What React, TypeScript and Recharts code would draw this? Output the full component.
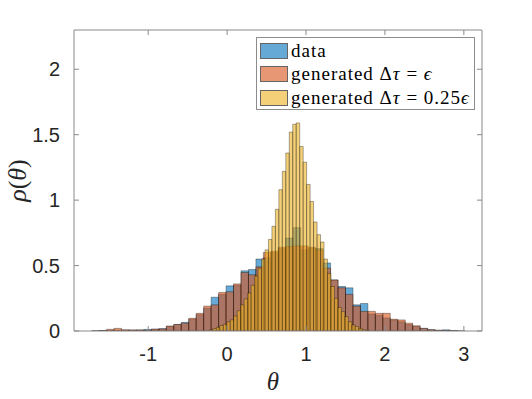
import { ComposedChart, XAxis, YAxis, ReferenceArea, ReferenceLine, Scatter, Legend } from 'recharts';

// histogram bins (theta), coarse bins for data / dt = eps, fine bins for dt = 0.25 eps
const coarseStart = -1.716;
const coarseWidth = 0.0946;
const fineStart = -0.224;
const fineWidth = 0.044;

const dataDensity = [
    0.003, 0.004, 0.005, 0.006, 0.006, 0.007, 0.008, 0.012, 0.013, 0.018,
    0.035, 0.05, 0.066, 0.09, 0.125, 0.175, 0.258, 0.28, 0.345, 0.35,
    0.46, 0.47, 0.55, 0.56, 0.6, 0.63, 0.71, 0.79, 0.62, 0.634,
    0.63, 0.52, 0.39, 0.34, 0.33, 0.2, 0.21, 0.13, 0.12, 0.1,
    0.085, 0.07, 0.05, 0.035, 0.02, 0.01, 0.006, 0.009, 0.003, 0.002,
];

const genEpsDensity = [
    0, 0.003, 0.013, 0.02, 0.01, 0.008, 0.008, 0.006, 0.015, 0.016,
    0.038, 0.05, 0.06, 0.097, 0.135, 0.19, 0.2, 0.294, 0.3, 0.36,
    0.447, 0.43, 0.49, 0.6, 0.61, 0.64, 0.645, 0.65, 0.65, 0.64,
    0.62, 0.48, 0.39, 0.33, 0.28, 0.19, 0.15, 0.15, 0.135, 0.135,
    0.09, 0.085, 0.06, 0.04, 0.02, 0.01, 0.005, 0.003, 0.002, 0,
];

const genQuarterDensity = [
    0.008, 0.018, 0.028, 0.042, 0.051, 0.07, 0.085, 0.115, 0.155, 0.2,
    0.245, 0.29, 0.35, 0.42, 0.48, 0.55, 0.62, 0.7, 0.8, 0.93,
    1.08, 1.22, 1.36, 1.52, 1.58, 1.59, 1.41, 1.29, 1.12, 0.99,
    0.833, 0.736, 0.68, 0.55, 0.44, 0.34, 0.25, 0.18, 0.148, 0.11,
    0.071, 0.046, 0.035, 0.02, 0.01, 0.005,
];

const seriesNames = ['data', 'generated Δτ = ϵ', 'generated Δτ = 0.25ϵ'];
const seriesColors = ['#0072BD', '#D95319', '#EDB120'];

const xTicks = [-1, 0, 1, 2, 3];
const yTicks = [0, 0.5, 1, 1.5, 2];
const xDomain = [-1.94, 3.23];
const yDomain = [0, 2.3];

const toBins = (start: number, width: number, vals: number[]) =>
    vals
        .map((v, i) => ({ x1: start + i * width, x2: start + (i + 1) * width, y: v }))
        .filter((b) => b.y > 0);

const series = [
    toBins(coarseStart, coarseWidth, dataDensity),
    toBins(coarseStart, coarseWidth, genEpsDensity),
    toBins(fineStart, fineWidth, genQuarterDensity),
];

// bin centres, only so the axes have data to work with
const binCentres = series.flat().map((b) => ({ x: (b.x1 + b.x2) / 2, y: b.y }));

// inward tick length (~5px) in data units
const xTickLen = 0.038;
const yTickLen = 0.063;

const axisColor = '#8a8a8a';
const tickStyle = { fill: '#262626', fontSize: 20, fontFamily: 'Liberation Sans, Arial, sans-serif' };

// italic greek letters like LaTeX math
const renderMath = (s: string) =>
    s.split('').map((ch, i) =>
        ch === 'τ' || ch === 'ϵ' ? <i key={i}>{ch}</i> : <span key={i}>{ch}</span>
    );

const LegendBox = () => (
    <div
        style={{
            width: 219,
            height: 73,
            boxSizing: 'border-box',
            border: '1px solid #8c8c8c',
            background: '#fff',
            paddingTop: 1,
            fontFamily: 'Liberation Serif, Times New Roman, serif',
            fontSize: 19,
            letterSpacing: 1,
            color: '#000',
        }}
    >
        {seriesNames.map((name, i) => (
            <div key={name} style={{ display: 'flex', alignItems: 'center', height: 23.5 }}>
                <div
                    style={{
                        width: 28,
                        height: 16,
                        marginLeft: 3,
                        marginRight: 3,
                        background: seriesColors[i],
                        opacity: 0.6,
                        border: '1px solid #000',
                        boxSizing: 'border-box',
                    }}
                />
                <span style={{ whiteSpace: 'nowrap' }}>{renderMath(name)}</span>
            </div>
        ))}
    </div>
);

const XLabel = (props: any) => {
    const { viewBox } = props;
    return (
        <text
            x={viewBox.x + viewBox.width / 2 - 5}
            y={viewBox.y + 59}
            textAnchor="middle"
            fontFamily="Liberation Serif, serif"
            fontStyle="italic"
            fontSize={25}
            fill="#262626"
        >
            θ
        </text>
    );
};

const YLabel = (props: any) => {
    const { viewBox } = props;
    const cx = viewBox.x + 26;
    const cy = viewBox.y + viewBox.height / 2;
    return (
        <text
            x={cx}
            y={cy}
            transform={`rotate(-90, ${cx}, ${cy})`}
            textAnchor="middle"
            fontFamily="Liberation Serif, serif"
            fontSize={26}
            fill="#262626"
        >
            <tspan fontStyle="italic">ρ</tspan>(<tspan fontStyle="italic">θ</tspan>)
        </text>
    );
};

const App = () => {
    return (
        <div style={{ position: 'absolute', left: 0, top: 0, width: 532, height: 399, background: '#fff' }}>
            <ComposedChart width={532} height={399} data={binCentres} margin={{ top: 29, right: 49, bottom: 8, left: 0 }}>
                <XAxis
                    xAxisId="b"
                    dataKey="x"
                    type="number"
                    domain={xDomain}
                    ticks={xTicks}
                    allowDataOverflow
                    height={60}
                    stroke={axisColor}
                    tickLine={false}
                    tickMargin={10}
                    tick={tickStyle}
                    label={<XLabel />}
                />
                <XAxis
                    xAxisId="t"
                    dataKey="x"
                    orientation="top"
                    type="number"
                    domain={xDomain}
                    ticks={xTicks}
                    allowDataOverflow
                    height={1}
                    stroke={axisColor}
                    tickLine={false}
                    tick={false}
                />
                <YAxis
                    yAxisId="l"
                    dataKey="y"
                    type="number"
                    domain={yDomain}
                    ticks={yTicks}
                    allowDataOverflow
                    width={74}
                    stroke={axisColor}
                    tickLine={false}
                    tickMargin={8}
                    tick={tickStyle}
                    label={<YLabel />}
                />
                <YAxis
                    yAxisId="r"
                    dataKey="y"
                    orientation="right"
                    type="number"
                    domain={yDomain}
                    ticks={yTicks}
                    allowDataOverflow
                    width={1}
                    stroke={axisColor}
                    tickLine={false}
                    tick={false}
                />
                <Scatter
                    xAxisId="b"
                    yAxisId="l"
                    dataKey="y"
                    shape={() => <g />}
                    legendType="none"
                    isAnimationActive={false}
                />
                {series.map((bins, s) =>
                    bins.map((b, i) => (
                        <ReferenceArea
                            key={`${s}-${i}`}
                            xAxisId="b"
                            yAxisId="l"
                            x1={b.x1}
                            x2={b.x2}
                            y1={0}
                            y2={b.y}
                            fill={seriesColors[s]}
                            fillOpacity={0.6}
                            stroke="#000"
                            strokeOpacity={0.55}
                            strokeWidth={0.6}
                            ifOverflow="hidden"
                        />
                    ))
                )}
                {xTicks.map((t) => (
                    <ReferenceLine
                        key={`xb${t}`}
                        xAxisId="b"
                        yAxisId="l"
                        segment={[{ x: t, y: yDomain[0] }, { x: t, y: yDomain[0] + xTickLen }]}
                        stroke={axisColor}
                    />
                ))}
                {xTicks.map((t) => (
                    <ReferenceLine
                        key={`xt${t}`}
                        xAxisId="b"
                        yAxisId="l"
                        segment={[{ x: t, y: yDomain[1] }, { x: t, y: yDomain[1] - xTickLen }]}
                        stroke={axisColor}
                    />
                ))}
                {yTicks.map((t) => (
                    <ReferenceLine
                        key={`yl${t}`}
                        xAxisId="b"
                        yAxisId="l"
                        segment={[{ x: xDomain[0], y: t }, { x: xDomain[0] + yTickLen, y: t }]}
                        stroke={axisColor}
                    />
                ))}
                {yTicks.map((t) => (
                    <ReferenceLine
                        key={`yr${t}`}
                        xAxisId="b"
                        yAxisId="l"
                        segment={[{ x: xDomain[1], y: t }, { x: xDomain[1] - yTickLen, y: t }]}
                        stroke={axisColor}
                    />
                ))}
                <Legend
                    verticalAlign="middle"
                    align="center"
                    layout="horizontal"
                    wrapperStyle={{ top: 37, left: 256, width: 219, height: 73 }}
                    content={() => <LegendBox />}
                />
            </ComposedChart>
        </div>
    );
};

export default App;
